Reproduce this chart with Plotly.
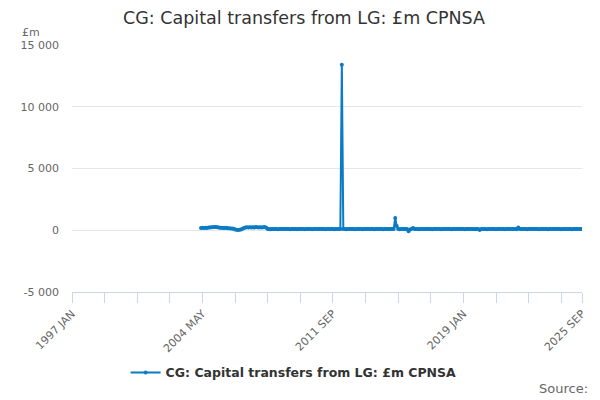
import plotly.graph_objects as go

MONTHS = ["JAN", "FEB", "MAR", "APR", "MAY", "JUN", "JUL", "AUG", "SEP", "OCT", "NOV", "DEC"]
categories = [f"{y} {m}" for y in range(1997, 2026) for m in MONTHS][:345]  # 1997 JAN .. 2025 SEP

# Monthly values, £m (no data before 2004 APR)
v_pre = [None] * 87
v_2004 = [190, 200, 180, 210, 190, 220, 230, 250, 240]          # APR-DEC
v_2005 = [260, 270, 240, 220, 200, 210, 190, 180, 200, 170, 160, 150]
v_2006 = [140, 120, 60, 40, 30, 50, 70, 120, 180, 230, 240, 220]
v_2007 = [250, 230, 240, 220, 260, 240, 230, 250, 220, 240, 260, 210]
v_2008 = [110, 100, 90, 100, 110, 95, 100, 90, 105, 100, 95, 110]
v_2009 = [100, 95, 105, 90, 100, 110, 95, 100, 90, 100, 105, 95]
v_2010 = [100, 90, 110, 95, 100, 105, 90, 100, 95, 110, 100, 95]
v_2011 = [105, 95, 100, 90, 100, 110, 95, 105, 100, 90, 100, 95]
v_2012 = [100, 110, 13400, 95, 100, 90, 105, 100, 95, 110, 100, 90]
v_2013 = [105, 95, 110, 100, 90, 100, 105, 95, 100, 110, 95, 100]
v_2014 = [90, 100, 110, 95, 105, 100, 90, 100, 110, 95, 100, 105]
v_2015 = [95, 110, 1000, 350, 100, 90, 105, 100, 95, 110, 100, -80]
v_2016 = [60, 100, 180, 95, 105, 100, 90, 110, 100, 95, 105, 100]
v_2017 = [95, 100, 110, 90, 105, 100, 95, 110, 100, 90, 105, 100]
v_2018 = [110, 95, 100, 105, 90, 100, 110, 95, 100, 105, 95, 100]
v_2019 = [100, 90, 110, 100, 95, 105, 100, 110, 90, 100, 95, 20]
v_2020 = [100, 95, 110, 100, 90, 105, 100, 95, 110, 100, 90, 100]
v_2021 = [105, 95, 100, 110, 90, 100, 105, 95, 100, 110, 95, 100]
v_2022 = [90, 220, 110, 100, 95, 105, 100, 90, 110, 100, 95, 105]
v_2023 = [100, 95, 110, 90, 100, 105, 95, 100, 110, 90, 100, 105]
v_2024 = [95, 100, 110, 95, 105, 100, 90, 100, 110, 95, 100, 105]
v_2025 = [100, 90, 110, 100, 95, 105, 100, 95, 100]             # JAN-SEP

values = (v_pre + v_2004 + v_2005 + v_2006 + v_2007 + v_2008 + v_2009 + v_2010 + v_2011
          + v_2012 + v_2013 + v_2014 + v_2015 + v_2016 + v_2017 + v_2018 + v_2019
          + v_2020 + v_2021 + v_2022 + v_2023 + v_2024 + v_2025)

tick_labels = ["1997 JAN", "2004 MAY", "2011 SEP", "2019 JAN", "2025 SEP"]
y_ticks = [-5000, 0, 5000, 10000, 15000]
y_tick_labels = ["-5 000", "0", "5 000", "10 000", "15 000"]

series_name = "CG: Capital transfers from LG: £m CPNSA"
color = "#0a7bc4"
FONT = "DejaVu Sans"

xs = list(range(len(categories)))
tick_pos = [categories.index(t) for t in tick_labels]

fig = go.Figure()
fig.add_trace(go.Scatter(
    x=xs, y=values, customdata=categories, name=series_name,
    mode="lines+markers", line=dict(color=color, width=2),
    marker=dict(color=color, size=4),
    hovertemplate="%{customdata}: %{y}<extra></extra>",
    showlegend=True,
))

# page body has an 8px margin, so the figure is 592x392 placed at (8, 8)
fig.update_layout(
    width=592, height=392,
    margin=dict(l=57, r=16, t=37, b=107),
    paper_bgcolor="white", plot_bgcolor="white",
    font=dict(family=FONT, color="#666666", size=11),
    title=dict(text=series_name, x=0.5, xanchor="center", y=0.9745, yanchor="middle",
               yref="container", font=dict(family=FONT, size=17.5, color="#333333")),
    xaxis=dict(
        range=[0, len(categories) - 1], showgrid=False, zeroline=False,
        tickmode="array", tickvals=tick_pos, ticktext=tick_labels, tickangle=-45,
        ticks="outside", ticklen=10, tickcolor="#ccd6eb", tickwidth=1,
        showline=True, linecolor="#ccd6eb", linewidth=1,
        minor=dict(tickmode="linear", tick0=0, dtick=22, ticks="outside", ticklen=10,
                   tickcolor="#ccd6eb", tickwidth=1, showgrid=False),
        tickfont=dict(size=11, color="#666666"),
    ),
    yaxis=dict(
        range=[-5000, 15000], tickmode="array", tickvals=y_ticks, ticktext=y_tick_labels,
        showgrid=True, gridcolor="#e6e6e6", gridwidth=1,
        zeroline=False, showline=False, ticklabelstandoff=12,
        tickfont=dict(size=11, color="#666666"),
    ),
    legend=dict(orientation="h", x=0.4345, xanchor="center", y=-0.327, yanchor="middle",
                font=dict(family=FONT, size=12.5, color="#333333", weight="bold"),
                itemwidth=30),
    annotations=[
        dict(text="£m", xref="paper", yref="paper", x=-0.102, y=1.052, xanchor="left",
             yanchor="middle", showarrow=False, font=dict(size=11, color="#666666")),
        dict(text="Source:", xref="paper", yref="paper", x=1.015, y=-0.391, xanchor="right",
             yanchor="middle", showarrow=False, font=dict(size=13, color="#666666")),
    ],
)

fig.write_html("out.html")
